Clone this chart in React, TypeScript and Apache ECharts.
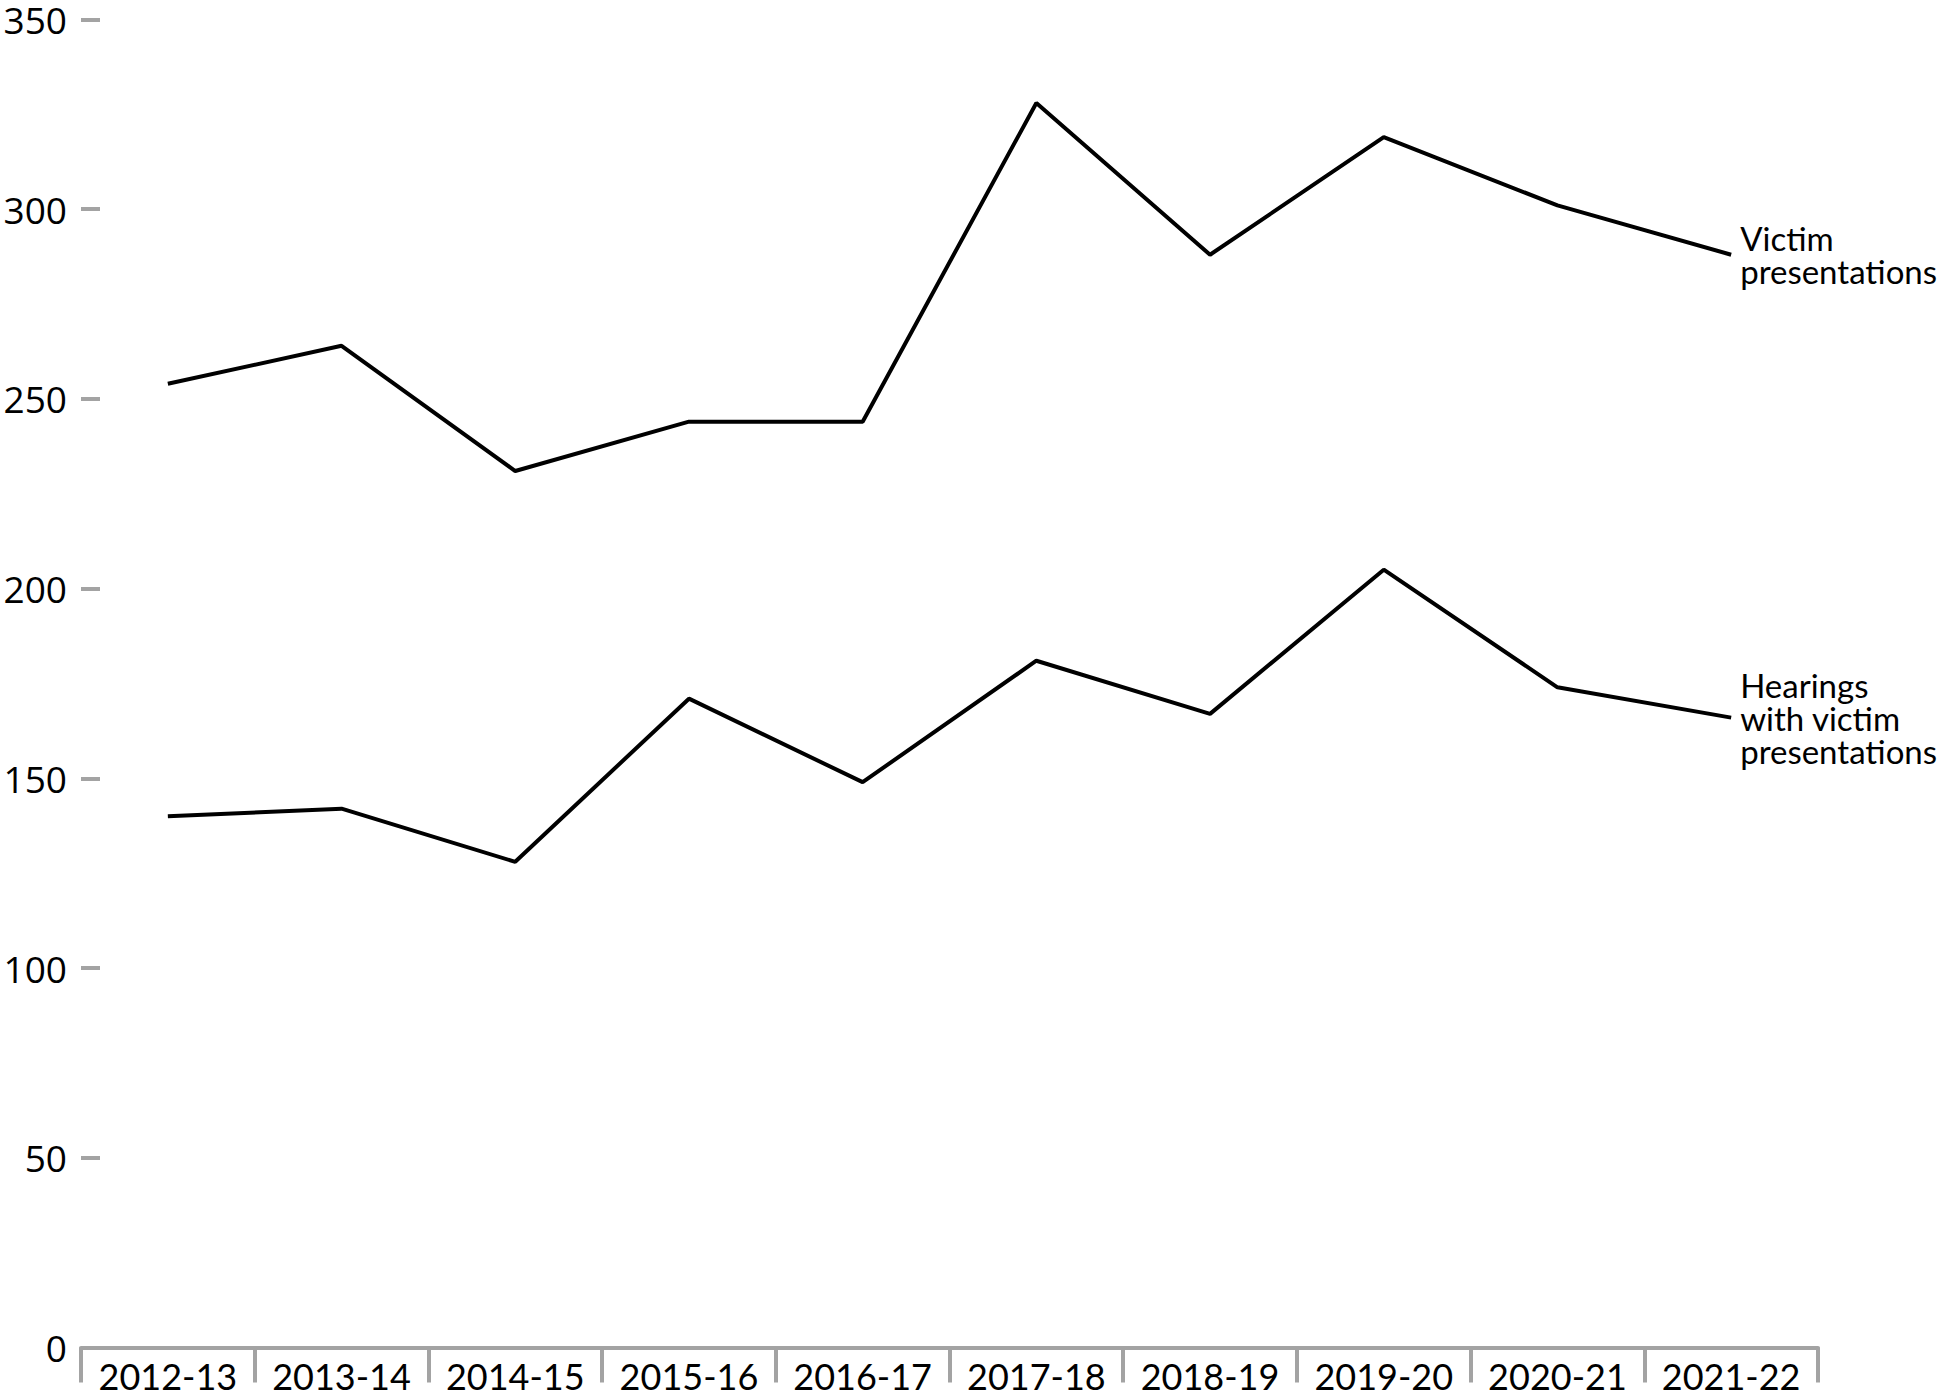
import React, { useEffect, useRef } from "react";
import * as echarts from "echarts";

const categories = ["2012-13", "2013-14", "2014-15", "2015-16", "2016-17", "2017-18", "2018-19", "2019-20", "2020-21", "2021-22"];
const victimPresentations = [254, 264, 231, 244, 244, 328, 288, 319, 301, 288];
const hearingsWithVictim = [140, 142, 128, 171, 149, 181, 167, 205, 174, 166];
const victimLabel = "Victim\npresentations";
const hearingsLabel = "Hearings\nwith victim\npresentations";
const yTicks = { min: 0, max: 350, interval: 50 };

export default function App() {
  const ref = useRef<HTMLDivElement>(null);
  useEffect(() => {
    if (!ref.current) return;
    const chart = echarts.init(ref.current, null, { renderer: "svg" });
    const grey = "#a3a3a3";
    const endLabel = (text: string) => ({
      show: true,
      formatter: () => text,
      color: "#000",
      fontFamily: "Lato",
      fontSize: 33,
      lineHeight: 33,
      distance: 9,
      align: "left",
      verticalAlign: "middle",
    });
    chart.setOption({
      animation: false,
      backgroundColor: "#fff",
      grid: { left: 81, right: 132, top: 19.5, bottom: 52.5, containLabel: false },
      xAxis: {
        type: "category",
        data: categories,
        boundaryGap: true,
        axisLine: { show: true, lineStyle: { color: grey, width: 4 } },
        axisTick: { show: true, inside: false, length: 35, lineStyle: { color: grey, width: 4 } },
        axisLabel: { color: "#000", fontFamily: "Lato", fontSize: 36, margin: 10, interval: 0 },
        splitLine: { show: false },
      },
      yAxis: {
        type: "value",
        min: yTicks.min,
        max: yTicks.max,
        interval: yTicks.interval,
        axisLine: { show: false },
        axisTick: { show: true, inside: true, length: 19, lineStyle: { color: grey, width: 4 } },
        axisLabel: { color: "#000", fontFamily: "Open Sans", fontSize: 37, lineHeight: 36, margin: 14 },
        splitLine: { show: false },
      },
      series: [
        {
          type: "line",
          name: "Victim presentations",
          data: victimPresentations,
          symbol: "none",
          lineStyle: { color: "#000", width: 4 },
          itemStyle: { color: "#000" },
          endLabel: endLabel(victimLabel),
        },
        {
          type: "line",
          name: "Hearings with victim presentations",
          data: hearingsWithVictim,
          symbol: "none",
          lineStyle: { color: "#000", width: 4 },
          itemStyle: { color: "#000" },
          endLabel: endLabel(hearingsLabel),
        },
      ],
    });
    return () => chart.dispose();
  }, []);
  return (
    <div
      ref={ref}
      style={{ position: "fixed", left: 0, top: 0, width: 1950, height: 1400, background: "#fff" }}
    />
  );
}
